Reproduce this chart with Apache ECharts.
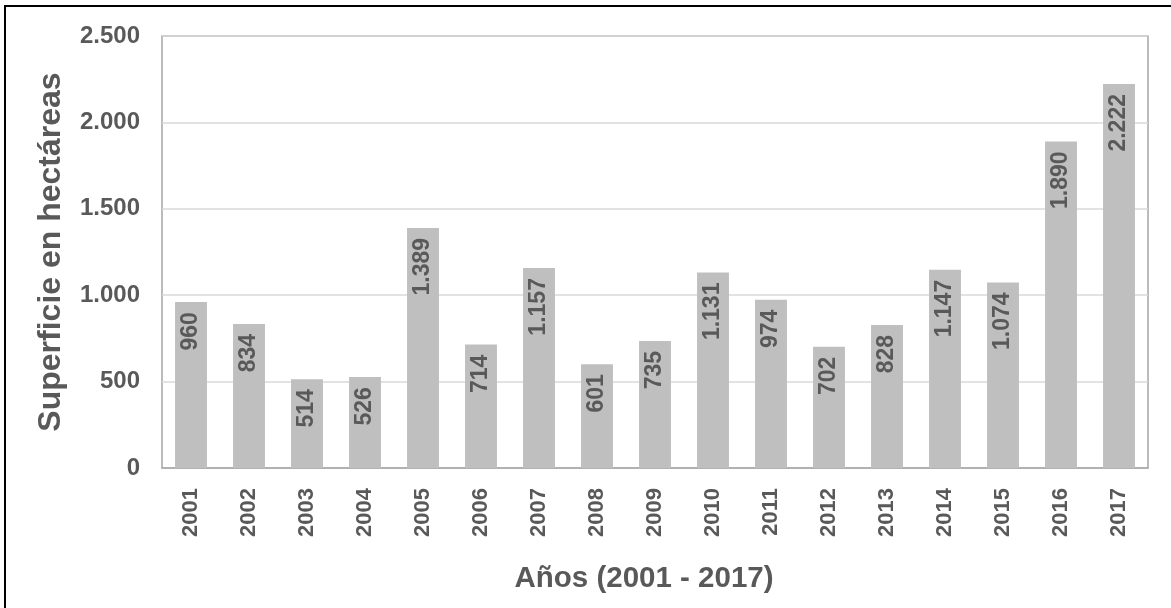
<!DOCTYPE html>
<html>
<head>
<meta charset="utf-8">
<script src="https://cdn.jsdelivr.net/npm/echarts@6/dist/echarts.min.js"></script>
<style>
  html, body { margin: 0; padding: 0; background: #fff; }
  #chart { width: 1171px; height: 608px; }
</style>
</head>
<body>
<div id="chart"></div>
<script>
// Superficie por año
const years = ["2001", "2002", "2003", "2004", "2005", "2006", "2007", "2008", "2009",
  "2010", "2011", "2012", "2013", "2014", "2015", "2016", "2017"];
const hectares = [960, 834, 514, 526, 1389, 714, 1157, 601, 735,
  1131, 974, 702, 828, 1147, 1074, 1890, 2222];
const yTicks = [0, 500, 1000, 1500, 2000, 2500];

const textColor = "#595959";
const font = "Liberation Sans";

// thousands with a dot, like the original
const fmt = (v) => String(v).replace(/\B(?=(\d{3})+(?!\d))/g, ".");

const chart = echarts.init(document.getElementById("chart"));
chart.setOption({
  backgroundColor: "#fff",
  animation: false,
  textStyle: { fontFamily: font },
  grid: {
    left: 162,
    right: 23,
    top: 36,
    bottom: 140,
    show: true,
    borderColor: "#a6a6a6",
    borderWidth: 1.5,
  },
  graphic: [
    {
      type: "rect",
      shape: { x: 5, y: 6, width: 1300, height: 800 },
      style: { fill: "none", stroke: "#000", lineWidth: 2 },
      silent: true,
    },
  ],
  xAxis: {
    type: "category",
    data: years,
    axisLine: { lineStyle: { color: "#a6a6a6", width: 1.5 } },
    axisTick: { show: false },
    axisLabel: {
      rotate: 90,
      margin: 20,
      color: textColor,
      fontSize: 22,
      fontWeight: "bold",
    },
    name: "Años (2001 - 2017)",
    nameLocation: "middle",
    nameGap: 96,
    nameTextStyle: {
      color: textColor,
      fontSize: 29.5,
      fontWeight: "bold",
      padding: [0, 22, 0, 0],
    },
  },
  yAxis: {
    type: "value",
    min: yTicks[0],
    max: yTicks[yTicks.length - 1],
    interval: 500,
    axisLine: { show: false },
    axisTick: { show: false },
    splitLine: { lineStyle: { color: "#d9d9d9", width: 1.5 } },
    axisLabel: {
      margin: 22,
      color: textColor,
      fontSize: 24,
      fontWeight: "bold",
      formatter: (v) => fmt(v),
    },
    name: "Superficie en hectáreas",
    nameLocation: "middle",
    nameGap: 95,
    nameTextStyle: {
      color: textColor,
      fontSize: 32,
      fontWeight: "bold",
    },
  },
  series: [
    {
      type: "bar",
      data: hectares,
      barWidth: "55%",
      itemStyle: { color: "#bfbfbf" },
      label: {
        show: true,
        position: "insideTop",
        rotate: 90,
        align: "right",
        verticalAlign: "middle",
        distance: 10,
        color: textColor,
        fontSize: 23,
        fontWeight: "bold",
        formatter: (p) => fmt(p.value),
      },
    },
  ],
});
</script>
</body>
</html>
